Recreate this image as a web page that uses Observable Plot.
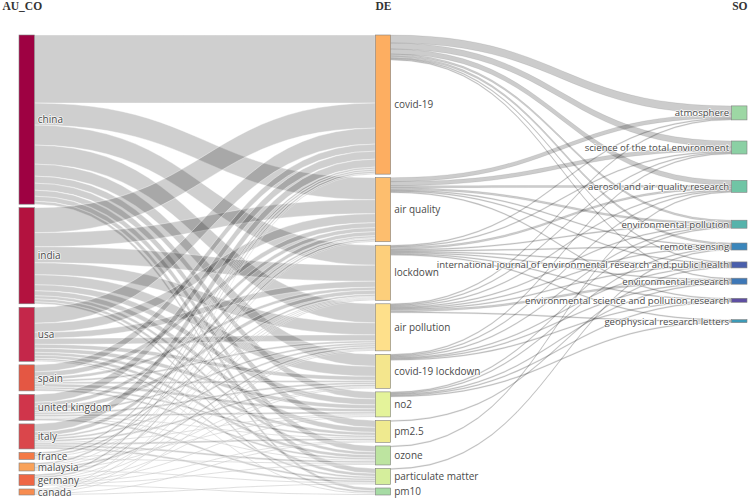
<!DOCTYPE html>
<html><head><meta charset="utf-8">
<script src="https://cdn.jsdelivr.net/npm/d3@7"></script>
<script src="https://cdn.jsdelivr.net/npm/@observablehq/plot@0.6"></script>
<style>html,body{margin:0;padding:0;background:#fff;} #chart svg{display:block}</style>
</head><body><div id="chart"></div>
<script>
// ---------- data ----------
const fieldTitles = ["AU_CO", "DE", "SO"];
const countries = ["china","india","usa","spain","united kingdom","italy","france","malaysia","germany","canada"];
const keywords = ["covid-19","air quality","lockdown","air pollution","covid-19 lockdown","no2","pm2.5","ozone","particulate matter","pm10"];
const journals = ["atmosphere","science of the total environment","aerosol and air quality research","environmental pollution","remote sensing","international journal of environmental research and public health","environmental research","environmental science and pollution research","geophysical research letters"];
// rows: countries, columns: keywords
const countryKeywordCounts = [
  [68,22,20,19,12,7,7,6,5,3],
  [25,14,16,12,10,6,5,3,3,2],
  [16,9,6,6,4,4,3,3,2,1],
  [7,5,3,2,2,3,2,2,0,0],
  [8,4,4,2,2,2,1,1,2,0],
  [8,4,2,2,2,1,2,2,2,0],
  [2,2,1,0,0,1,0,1,0,0],
  [2,1,1,2,1,0,0,0,1,0],
  [2,2,1,1,1,1,1,1,0,1],
  [1,1,1,1,0,0,1,0,1,0]
];
// rows: keywords, columns: journals
const keywordJournalCounts = [
  [8,6,5,2,2,1,1,0,0],
  [4,4,2,2,1,1,0,1,0],
  [1,1,2,1,1,1,1,1,1],
  [1,1,1,1,1,1,2,0,1],
  [0,1,1,1,0,1,1,1,0],
  [0,0,0,1,1,0,1,1,1],
  [0,0,0,0,0,1,0,0,0],
  [0,0,1,0,0,0,0,0,0],
  [0,0,0,0,1,0,0,0,0],
  [0,0,0,0,0,0,0,0,0]
];
// ---------- style ----------
const nodeColors = [
  "#9e0142","#b3123f","#c4274a","#e45743","#d0354b","#da464b","#f47a47","#f9a25a","#ee6645","#f78c50",
  "#fdae61","#fdbe6e","#fdcf7b","#fee08b","#f4e68d","#e4f39a","#efea8f","#bde4a0","#d5ee9c","#a6dba4",
  "#9dd7a4","#8bd0a4","#70c5a5","#56b3ab","#3a86bb","#4a5fac","#3e78b7","#5e4fa2","#3c9ab7"
];
const PAD = 3.5;        // gap between stacked nodes (value units)
const NODE_W = 0.043;   // node thickness (column units)

// ---------- sankey layout ----------
const columns = [countries, keywords, journals];
const nodes = [];
columns.forEach((names, c) => names.forEach((name, i) => nodes.push({name, col: c, idx: i, inLinks: [], outLinks: []})));
const byCol = c => nodes.filter(n => n.col === c);
const links = [];
countryKeywordCounts.forEach((row, i) => row.forEach((v, j) => { if (v > 0) links.push({source: byCol(0)[i], target: byCol(1)[j], value: v}); }));
keywordJournalCounts.forEach((row, i) => row.forEach((v, j) => { if (v > 0) links.push({source: byCol(1)[i], target: byCol(2)[j], value: v}); }));
links.forEach(l => { l.source.outLinks.push(l); l.target.inLinks.push(l); });
nodes.forEach(n => n.value = Math.max(d3.sum(n.inLinks, l => l.value), d3.sum(n.outLinks, l => l.value)));
const yMax = d3.max([0, 1, 2], c => d3.sum(byCol(c), n => n.value) + (byCol(c).length - 1) * PAD);

function stack(col) {
  let y = 0;
  for (const n of byCol(col)) { n.y0 = y; n.y1 = y + n.value; y = n.y1 + PAD; }
}
function placeSources(col) {
  for (const n of byCol(col)) {
    let y = n.y0;
    n.outLinks.sort((a, b) => a.target.idx - b.target.idx);
    for (const l of n.outLinks) { l.sy0 = y; l.sy1 = y + l.value; y = l.sy1; }
  }
}
function placeTargets(col) {
  for (const n of byCol(col)) {
    let y = n.y0;
    n.inLinks.sort((a, b) => a.source.idx - b.source.idx);
    for (const l of n.inLinks) { l.ty0 = y; l.ty1 = y + l.value; y = l.ty1; }
  }
}
stack(0); stack(1);
placeSources(0); placeSources(1);
// last column: relax toward weighted position of incoming links, then resolve collisions
{
  const col = byCol(2);
  for (const n of col) {
    const c = d3.sum(n.inLinks, l => (l.sy0 + l.sy1) / 2 * l.value) / d3.sum(n.inLinks, l => l.value);
    n.y0 = c - n.value / 2; n.y1 = c + n.value / 2;
  }
  let y = 0;
  for (const n of col) { const dy = y - n.y0; if (dy > 0) { n.y0 += dy; n.y1 += dy; } y = n.y1 + PAD; }
  let dy = y - PAD - yMax;
  if (dy > 0) {
    for (let i = col.length - 1; i >= 0; --i) {
      const n = col[i]; n.y0 -= dy; n.y1 -= dy;
      if (i > 0) { dy = col[i - 1].y1 + PAD - n.y0; if (dy <= 0) break; }
    }
  }
}
placeTargets(1); placeTargets(2);

// ribbons sampled along the link bezier
const T = d3.range(0, 25).map(i => i / 24);
const ribbonPts = links.flatMap((l, k) => {
  const xs = l.source.col + NODE_W, xt = l.target.col;
  return T.map(t => {
    const u = 1.5 * t * (1 - t) + t * t * t, s = 3 * t * t - 2 * t * t * t;
    return {id: k, stage: l.source.col, x: xs + (xt - xs) * u, top: l.sy0 + (l.ty0 - l.sy0) * s, bot: l.sy1 + (l.ty1 - l.sy1) * s};
  });
});

const labelFont = {fontFamily: "'Open Sans', sans-serif", fill: "#4a4a4a", stroke: "white", strokeWidth: 1.6, strokeOpacity: 0.85};
const titleFont = {fontSize: 11.5, fontFamily: "'Liberation Serif', serif", fontWeight: "bold", fill: "#333", frameAnchor: "top", lineAnchor: "top", dy: 1};

const chart = Plot.plot({
  width: 749, height: 498,
  marginTop: 0, marginBottom: 0, marginLeft: 0, marginRight: 0,
  x: {domain: [0, 2 + NODE_W], range: [19, 747], axis: null},
  y: {domain: [0, yMax], range: [35, 495], axis: null},
  color: {type: "ordinal", domain: nodes.map(n => n.name), range: nodeColors},
  marks: [
    Plot.area(ribbonPts.filter(p => p.stage === 0), {x1: "x", y1: "top", y2: "bot", z: "id", fill: "black", fillOpacity: 0.19, stroke: "white", strokeWidth: 0.4, curve: "linear"}),
    Plot.area(ribbonPts.filter(p => p.stage === 1), {x1: "x", y1: "top", y2: "bot", z: "id", fill: "black", fillOpacity: 0.2, stroke: "black", strokeOpacity: 0.13, strokeWidth: 0.6, curve: "linear"}),
    Plot.rect(nodes, {x1: d => d.col, x2: d => d.col + NODE_W, y1: "y0", y2: "y1", fill: "name", stroke: "#808080", strokeWidth: 0.6}),
    Plot.text(nodes.filter(n => n.col < 2), {x: d => d.col + NODE_W, y: d => (d.y0 + d.y1) / 2, text: "name", textAnchor: "start", dx: 3, fontSize: 10, ...labelFont}),
    Plot.text(nodes.filter(n => n.col === 2), {x: d => d.col, y: d => (d.y0 + d.y1) / 2, text: "name", textAnchor: "end", dx: -3, fontSize: 9.6, ...labelFont}),
    Plot.text([fieldTitles[0]], {x: [0], text: d => d, textAnchor: "start", dx: -17, ...titleFont}),
    Plot.text([fieldTitles[1]], {x: [1 + NODE_W / 2], text: d => d, textAnchor: "middle", ...titleFont}),
    Plot.text([fieldTitles[2]], {x: [2 + NODE_W], text: d => d, textAnchor: "end", ...titleFont})
  ]
});
document.getElementById("chart").append(chart);
</script>
</body></html>
